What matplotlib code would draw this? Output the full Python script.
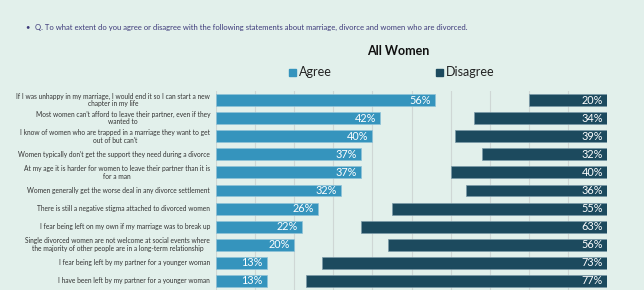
import matplotlib
matplotlib.use("Agg")
import matplotlib.pyplot as plt
from matplotlib.patches import Rectangle

plt.rcParams['font.family'] = ['Lato', 'DejaVu Sans']

statements = [
    "If I was unhappy in my marriage, I would end it so I can start a new\nchapter in my life",
    "Most women can't afford to leave their partner, even if they\nwanted to",
    "I know of women who are trapped in a marriage they want to get\nout of but can't",
    "Women typically don't get the support they need during a divorce",
    "At my age it is harder for women to leave their partner than it is\nfor a man",
    "Women generally get the worse deal in any divorce settlement",
    "There is still a negative stigma attached to divorced women",
    "I fear being left on my own if my marriage was to break up",
    "Single divorced women are not welcome at social events where\nthe majority of other people are in a long-term relationship",
    "I fear being left by my partner for a younger woman",
    "I have been left by my partner for a younger woman",
]
agree = [56, 42, 40, 37, 37, 32, 26, 22, 20, 13, 13]
disagree = [20, 34, 39, 32, 40, 36, 55, 63, 56, 73, 77]

bg = '#e2f0eb'
c_agree = '#3594bd'
c_disagree = '#1c4a5e'

W, H = 644, 290
fig = plt.figure(figsize=(W / 100, H / 100), dpi=100, facecolor=bg)

# question line
fig.text(25 / W, 1 - 27 / H, "•", fontsize=5.5, color='#3d3a7a', va='center')
fig.text(35 / W, 1 - 27 / H,
         "Q. To what extent do you agree or disagree with the following statements about marriage, divorce and women who are divorced.",
         fontsize=5.5, color='#3d3a7a', va='center')

fig.text(398 / W, 1 - 51 / H, "All Women", fontsize=9, fontweight='bold',
         ha='center', va='center', color='#111111')

# legend
for x0, lab, col in [(289, "Agree", c_agree), (436, "Disagree", c_disagree)]:
    fig.patches.append(Rectangle((x0 / W, 1 - 76 / H), 7 / W, 7 / H,
                                 transform=fig.transFigure, color=col))
    fig.text((x0 + 10) / W, 1 - 72.5 / H, lab, fontsize=9, va='center', color='#222222')

ax = fig.add_axes([216 / W, 0, (607 - 216) / W, 1 - 91 / H])
ax.set_facecolor(bg)
y = list(range(len(statements)))
ax.barh(y, agree, left=0, height=0.66, color=c_agree, edgecolor='#8fc3d8', linewidth=0.5)
ax.barh(y, disagree, left=[100 - d for d in disagree], height=0.66,
        color=c_disagree, edgecolor='#7a9aa8', linewidth=0.5)

for i in y:
    ax.text(agree[i] - 1, i, f"{agree[i]}%", color='white', fontsize=7.8,
            ha='right', va='center')
    ax.text(99, i, f"{disagree[i]}%", color='white', fontsize=7.8,
            ha='right', va='center')
    ax.text(-1.5, i, statements[i], fontsize=4.75, ha='right', va='center',
            multialignment='center', color='#333333', linespacing=1.1)

ax.set_xlim(0, 100)
ax.set_ylim(10.5, -0.5)
ax.set_xticks(range(0, 101, 10))
ax.grid(axis='x', color='#cfd7d5', linewidth=0.8)
ax.set_axisbelow(True)
ax.tick_params(left=False, bottom=False, labelleft=False, labelbottom=False)
for s in ax.spines.values():
    s.set_visible(False)

fig.savefig("out.png", dpi=100, facecolor=bg)
